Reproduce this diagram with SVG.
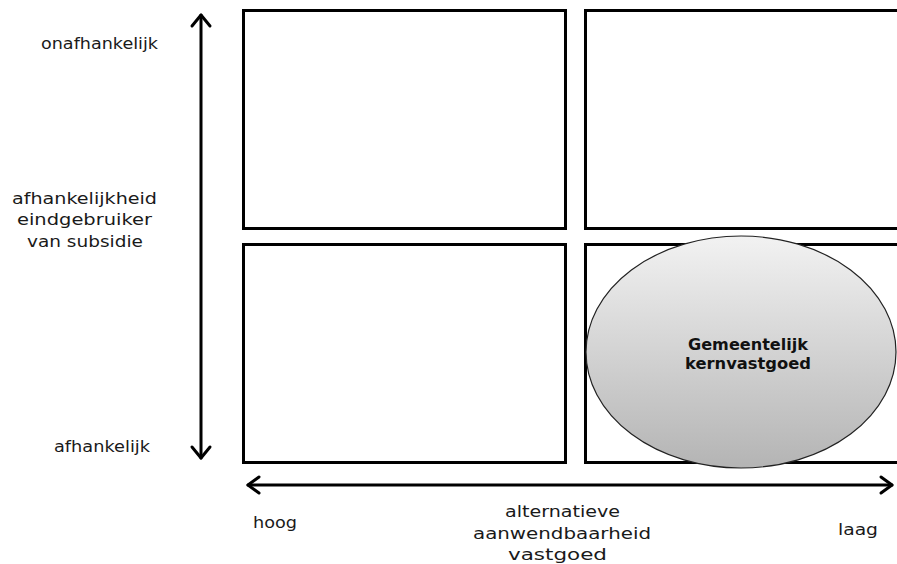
<svg xmlns="http://www.w3.org/2000/svg" width="897" height="564" viewBox="0 0 897 564">
  <defs>
    <linearGradient id="ellFill" x1="0" y1="0" x2="0" y2="1">
      <stop offset="0" stop-color="#f2f2f2"/>
      <stop offset="1" stop-color="#b4b4b4"/>
    </linearGradient>
    <style>
      .box { fill: #ffffff; stroke: #000000; stroke-width: 3; }
      .axis { fill: none; stroke: #000000; stroke-width: 3; stroke-linecap: round; stroke-linejoin: round; }
      .lbl { font-family: "DejaVu Sans", "Liberation Sans", sans-serif; font-size: 15px; fill: #1a1a1a; }
      .bold { font-family: "DejaVu Sans", "Liberation Sans", sans-serif; font-size: 15px; font-weight: bold; fill: #111111; }
    </style>
  </defs>
  <rect width="897" height="564" fill="#ffffff"/>

  <!-- quadrants -->
  <g id="q-top-left"><rect class="box" x="243.5" y="10.5" width="322" height="218"/></g>
  <g id="q-top-right"><rect class="box" x="585.5" y="10.5" width="320" height="218"/></g>
  <g id="q-bottom-left"><rect class="box" x="243.5" y="244.5" width="322" height="218"/></g>
  <g id="q-bottom-right"><rect class="box" x="585.5" y="244.5" width="320" height="218"/></g>

  <!-- highlighted category -->
  <g id="kernvastgoed">
    <ellipse cx="741" cy="352" rx="155" ry="116" fill="url(#ellFill)" stroke="#222222" stroke-width="1.2"/>
    <text class="bold" x="688" y="350" textLength="120" lengthAdjust="spacingAndGlyphs">Gemeentelijk</text>
    <text class="bold" x="685" y="369" textLength="126" lengthAdjust="spacingAndGlyphs">kernvastgoed</text>
  </g>

  <!-- axes -->
  <g id="connectors">
    <line class="axis" x1="201" y1="15" x2="201" y2="458"/>
    <polyline class="axis" points="192,26 201,15 210,26"/>
    <polyline class="axis" points="192,447 201,458 210,447"/>
    <line class="axis" x1="248" y1="485" x2="892" y2="485"/>
    <polyline class="axis" points="259,477 248,485 259,493"/>
    <polyline class="axis" points="881,477 892,485 881,493"/>
  </g>

  <!-- axis labels -->
  <g id="y-labels">
    <text class="lbl" x="41" y="49" textLength="117" lengthAdjust="spacingAndGlyphs">onafhankelijk</text>
    <text class="lbl" x="12" y="204" textLength="145" lengthAdjust="spacingAndGlyphs">afhankelijkheid</text>
    <text class="lbl" x="17" y="225" textLength="135" lengthAdjust="spacingAndGlyphs">eindgebruiker</text>
    <text class="lbl" x="27" y="247" textLength="116" lengthAdjust="spacingAndGlyphs">van subsidie</text>
    <text class="lbl" x="54" y="452" textLength="96" lengthAdjust="spacingAndGlyphs">afhankelijk</text>
  </g>
  <g id="x-labels">
    <text class="lbl" x="253" y="528" textLength="44" lengthAdjust="spacingAndGlyphs">hoog</text>
    <text class="lbl" x="505" y="517" textLength="115" lengthAdjust="spacingAndGlyphs">alternatieve</text>
    <text class="lbl" x="473" y="539" textLength="178" lengthAdjust="spacingAndGlyphs">aanwendbaarheid</text>
    <text class="lbl" x="508" y="560" textLength="99" lengthAdjust="spacingAndGlyphs">vastgoed</text>
    <text class="lbl" x="838" y="535" textLength="40" lengthAdjust="spacingAndGlyphs">laag</text>
  </g>
</svg>
